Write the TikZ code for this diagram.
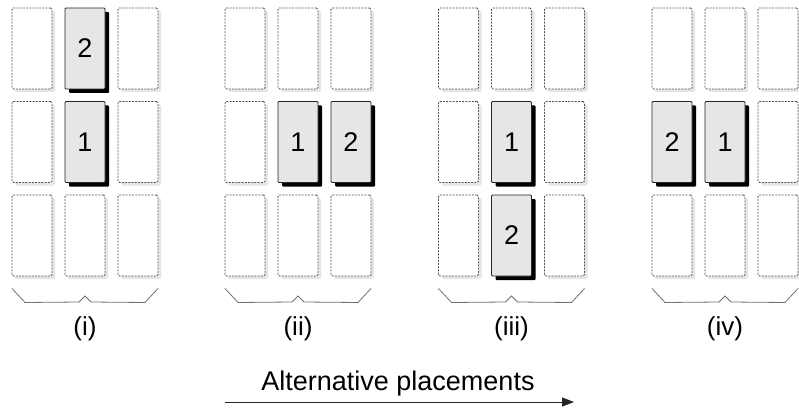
\documentclass[tikz,border=0pt]{standalone}
\usepackage{fontspec}
\setmainfont{Liberation Sans}
\usetikzlibrary{shadows,arrows.meta,calc}
\definecolor{boxfill}{HTML}{E6E6E6}
\definecolor{dashline}{HTML}{555555}
\definecolor{braceline}{HTML}{707070}
\tikzset{
  slot/.style={draw=dashline, line width=0.75pt, dash pattern=on 2pt off 1.2pt, fill=white,
    rounded corners=1.5pt, minimum width=40pt, minimum height=81pt, inner sep=0pt,
    drop shadow={shadow xshift=3pt, shadow yshift=-3pt, opacity=1, fill=black!10}},
  placed/.style={draw=black!85, line width=0.8pt, fill=boxfill,
    rounded corners=1pt, minimum width=40pt, minimum height=81pt, inner sep=0pt,
    font=\fontsize{27}{30}\selectfont,
    drop shadow={shadow xshift=4pt, shadow yshift=-4pt, opacity=1, fill=black}},
  panellabel/.style={font=\fontsize{26}{30}\selectfont, inner sep=0pt},
  bracepath/.style={draw=braceline, line width=0.8pt},
  arrowline/.style={draw=black!85, line width=0.8pt, -{Triangle[length=12pt,width=9pt]}}
}
\begin{document}
\begin{tikzpicture}[x=1pt,y=-1pt]
\useasboundingbox (0,0) rectangle (799,409);
\foreach \p/\px/\lab in {1/12/(i), 2/225/(ii), 3/438.5/(iii), 4/652/(iv)}{
  \foreach \c in {0,1,2}{
    \foreach \r in {0,1,2}{
      \pgfmathsetmacro{\cx}{\px+20+53*\c}
      \pgfmathsetmacro{\cy}{48.5+93.5*\r}
      \def\content{}
      \ifnum\p=1 \ifnum\c=1 \ifnum\r=0 \def\content{2}\fi\ifnum\r=1 \def\content{1}\fi\fi\fi
      \ifnum\p=2 \ifnum\r=1 \ifnum\c=1 \def\content{1}\fi\ifnum\c=2 \def\content{2}\fi\fi\fi
      \ifnum\p=3 \ifnum\c=1 \ifnum\r=1 \def\content{1}\fi\ifnum\r=2 \def\content{2}\fi\fi\fi
      \ifnum\p=4 \ifnum\r=1 \ifnum\c=0 \def\content{2}\fi\ifnum\c=1 \def\content{1}\fi\fi\fi
      \ifx\content\empty
        \node[slot] (b\p-\c-\r) at (\cx,\cy) {};
      \else
        \node[placed] (b\p-\c-\r) at (\cx,\cy) {\content};
      \fi
    }
  }
  \coordinate (bl\p) at (\px,288.5);
  \coordinate (br\p) at (\px+146,288.5);
  \coordinate (bt\p) at (\px+73,296);
  \draw[bracepath] (bl\p) -- ++(13,14) -- ($(bt\p)+(-6,6)$) -- (bt\p) -- ($(bt\p)+(6,6)$) -- ($(br\p)+(-13,14)$) -- (br\p);
  \node[panellabel] (l\p) at (\px+73,329) {\lab};
}
\node[font=\fontsize{27}{32}\selectfont, inner sep=0pt, anchor=base] (cap) at (398,390) {Alternative placements};
\coordinate (as) at (225,402);
\coordinate (ae) at (574,402);
\draw[arrowline] (as) -- (ae);
\end{tikzpicture}
\end{document}
